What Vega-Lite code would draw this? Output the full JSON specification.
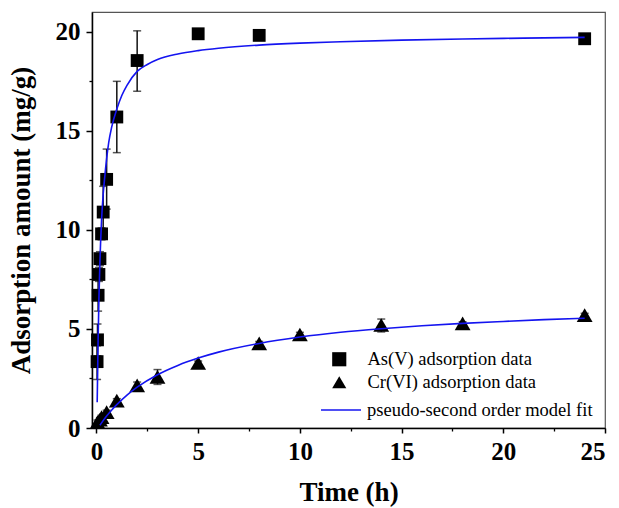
{
  "$schema": "https://vega.github.io/schema/vega-lite/v6.json",
  "width": 513,
  "height": 416,
  "autosize": "none",
  "padding": {"left": 92, "top": 12, "right": 14, "bottom": 80},
  "background": "white",
  "config": {
    "view": {"stroke": "#555555", "strokeWidth": 1.2},
    "font": "Liberation Serif",
    "legend": {"padding": 0, "labelFont": "Liberation Serif", "labelFontSize": 18.5, "labelColor": "black", "labelLimit": 400}
  },
  "datasets": {
    "points": [
      {"t": 0.03, "q": 3.35, "lo": 2.45, "hi": 4.15, "series": "As(V) adsorption data"},
      {"t": 0.05, "q": 4.45, "lo": 3.65, "hi": 5.25, "series": "As(V) adsorption data"},
      {"t": 0.08, "q": 6.7, "lo": 5.9, "hi": 7.5, "series": "As(V) adsorption data"},
      {"t": 0.12, "q": 7.75, "lo": 7.4, "hi": 8.1, "series": "As(V) adsorption data"},
      {"t": 0.17, "q": 8.55, "lo": 8.2, "hi": 8.9, "series": "As(V) adsorption data"},
      {"t": 0.25, "q": 9.8, "lo": 9.5, "hi": 10.1, "series": "As(V) adsorption data"},
      {"t": 0.33, "q": 10.9, "lo": 9.6, "hi": 12.2, "series": "As(V) adsorption data"},
      {"t": 0.5, "q": 12.55, "lo": 11.05, "hi": 14.08, "series": "As(V) adsorption data"},
      {"t": 1, "q": 15.7, "lo": 13.9, "hi": 17.5, "series": "As(V) adsorption data"},
      {"t": 2, "q": 18.55, "lo": 17.0, "hi": 20.05, "series": "As(V) adsorption data"},
      {"t": 5, "q": 19.9, "lo": 19.8, "hi": 20.0, "series": "As(V) adsorption data"},
      {"t": 8, "q": 19.82, "lo": 19.74, "hi": 19.9, "series": "As(V) adsorption data"},
      {"t": 24, "q": 19.65, "lo": 19.58, "hi": 19.72, "series": "As(V) adsorption data"},
      {"t": 0.05, "q": 0.3, "lo": 0.2, "hi": 0.4, "series": "Cr(VI) adsorption data"},
      {"t": 0.17, "q": 0.42, "lo": 0.32, "hi": 0.52, "series": "Cr(VI) adsorption data"},
      {"t": 0.25, "q": 0.55, "lo": 0.45, "hi": 0.65, "series": "Cr(VI) adsorption data"},
      {"t": 0.5, "q": 0.8, "lo": 0.7, "hi": 0.9, "series": "Cr(VI) adsorption data"},
      {"t": 1, "q": 1.38, "lo": 1.28, "hi": 1.48, "series": "Cr(VI) adsorption data"},
      {"t": 2, "q": 2.15, "lo": 1.98, "hi": 2.32, "series": "Cr(VI) adsorption data"},
      {"t": 3, "q": 2.58, "lo": 2.2, "hi": 2.95, "series": "Cr(VI) adsorption data"},
      {"t": 5, "q": 3.28, "lo": 3.18, "hi": 3.38, "series": "Cr(VI) adsorption data"},
      {"t": 8, "q": 4.27, "lo": 4.17, "hi": 4.37, "series": "Cr(VI) adsorption data"},
      {"t": 10, "q": 4.72, "lo": 4.61, "hi": 4.83, "series": "Cr(VI) adsorption data"},
      {"t": 14, "q": 5.2, "lo": 4.85, "hi": 5.5, "series": "Cr(VI) adsorption data"},
      {"t": 18, "q": 5.28, "lo": 5.2, "hi": 5.36, "series": "Cr(VI) adsorption data"},
      {"t": 24, "q": 5.7, "lo": 5.61, "hi": 5.79, "series": "Cr(VI) adsorption data"}
    ],
    "fits": [
      {"t": 0.035, "q": 1.3, "metal": "As", "label": "pseudo-second order model fit"},
      {"t": 0.06, "q": 3.0, "metal": "As", "label": "pseudo-second order model fit"},
      {"t": 0.08, "q": 4.4, "metal": "As", "label": "pseudo-second order model fit"},
      {"t": 0.12, "q": 6.5, "metal": "As", "label": "pseudo-second order model fit"},
      {"t": 0.17, "q": 8.4, "metal": "As", "label": "pseudo-second order model fit"},
      {"t": 0.2, "q": 9.3, "metal": "As", "label": "pseudo-second order model fit"},
      {"t": 0.25, "q": 10.5, "metal": "As", "label": "pseudo-second order model fit"},
      {"t": 0.33, "q": 11.8, "metal": "As", "label": "pseudo-second order model fit"},
      {"t": 0.4, "q": 12.6, "metal": "As", "label": "pseudo-second order model fit"},
      {"t": 0.5, "q": 13.6, "metal": "As", "label": "pseudo-second order model fit"},
      {"t": 0.6, "q": 14.4, "metal": "As", "label": "pseudo-second order model fit"},
      {"t": 0.75, "q": 15.2, "metal": "As", "label": "pseudo-second order model fit"},
      {"t": 1, "q": 16.1, "metal": "As", "label": "pseudo-second order model fit"},
      {"t": 1.25, "q": 16.8, "metal": "As", "label": "pseudo-second order model fit"},
      {"t": 1.5, "q": 17.3, "metal": "As", "label": "pseudo-second order model fit"},
      {"t": 2, "q": 18.0, "metal": "As", "label": "pseudo-second order model fit"},
      {"t": 2.5, "q": 18.35, "metal": "As", "label": "pseudo-second order model fit"},
      {"t": 3, "q": 18.6, "metal": "As", "label": "pseudo-second order model fit"},
      {"t": 4, "q": 18.88, "metal": "As", "label": "pseudo-second order model fit"},
      {"t": 5, "q": 19.05, "metal": "As", "label": "pseudo-second order model fit"},
      {"t": 6, "q": 19.17, "metal": "As", "label": "pseudo-second order model fit"},
      {"t": 8, "q": 19.33, "metal": "As", "label": "pseudo-second order model fit"},
      {"t": 10, "q": 19.43, "metal": "As", "label": "pseudo-second order model fit"},
      {"t": 12, "q": 19.5, "metal": "As", "label": "pseudo-second order model fit"},
      {"t": 15, "q": 19.58, "metal": "As", "label": "pseudo-second order model fit"},
      {"t": 18, "q": 19.64, "metal": "As", "label": "pseudo-second order model fit"},
      {"t": 21, "q": 19.68, "metal": "As", "label": "pseudo-second order model fit"},
      {"t": 24, "q": 19.72, "metal": "As", "label": "pseudo-second order model fit"},
      {"t": 0.17, "q": 0.14, "metal": "Cr", "label": "pseudo-second order model fit"},
      {"t": 0.25, "q": 0.26, "metal": "Cr", "label": "pseudo-second order model fit"},
      {"t": 0.5, "q": 0.6, "metal": "Cr", "label": "pseudo-second order model fit"},
      {"t": 0.75, "q": 0.91, "metal": "Cr", "label": "pseudo-second order model fit"},
      {"t": 1, "q": 1.18, "metal": "Cr", "label": "pseudo-second order model fit"},
      {"t": 1.5, "q": 1.66, "metal": "Cr", "label": "pseudo-second order model fit"},
      {"t": 2, "q": 2.06, "metal": "Cr", "label": "pseudo-second order model fit"},
      {"t": 3, "q": 2.69, "metal": "Cr", "label": "pseudo-second order model fit"},
      {"t": 4, "q": 3.16, "metal": "Cr", "label": "pseudo-second order model fit"},
      {"t": 5, "q": 3.53, "metal": "Cr", "label": "pseudo-second order model fit"},
      {"t": 6, "q": 3.83, "metal": "Cr", "label": "pseudo-second order model fit"},
      {"t": 8, "q": 4.27, "metal": "Cr", "label": "pseudo-second order model fit"},
      {"t": 10, "q": 4.59, "metal": "Cr", "label": "pseudo-second order model fit"},
      {"t": 12, "q": 4.83, "metal": "Cr", "label": "pseudo-second order model fit"},
      {"t": 14, "q": 5.01, "metal": "Cr", "label": "pseudo-second order model fit"},
      {"t": 16, "q": 5.16, "metal": "Cr", "label": "pseudo-second order model fit"},
      {"t": 18, "q": 5.28, "metal": "Cr", "label": "pseudo-second order model fit"},
      {"t": 20, "q": 5.38, "metal": "Cr", "label": "pseudo-second order model fit"},
      {"t": 22, "q": 5.47, "metal": "Cr", "label": "pseudo-second order model fit"},
      {"t": 24, "q": 5.54, "metal": "Cr", "label": "pseudo-second order model fit"}
    ]
  },
  "layer": [
    {
      "data": {"name": "points"},
      "mark": {"type": "errorbar", "thickness": 1.5, "color": "#111111", "ticks": {"size": 8, "color": "#111111"}, "rule": {"color": "#111111"}},
      "encoding": {
        "x": {"field": "t", "type": "quantitative", "scale": {"domain": [-0.22, 25], "nice": false, "zero": false}, "axis": null},
        "y": {"field": "lo", "type": "quantitative", "scale": {"domain": [0, 21], "nice": false}, "axis": null},
        "y2": {"field": "hi"}
      }
    },
    {
      "data": {"name": "points"},
      "mark": {"type": "point", "filled": true, "opacity": 1, "color": "black", "strokeWidth": 0},
      "encoding": {
        "x": {
          "field": "t", "type": "quantitative",
          "axis": {
            "values": [0, 5, 10, 15, 20, 25], "grid": false, "domainColor": "black", "domainWidth": 1.5,
            "tickColor": "black", "tickWidth": 1.5, "tickSize": 5, "labelPadding": 6,
            "labelFont": "Liberation Serif", "labelFontWeight": "bold", "labelFontSize": 25, "labelColor": "black",
            "title": "Time (h)", "titleFont": "Liberation Serif", "titleFontWeight": "bold", "titleFontSize": 27,
            "titleColor": "black", "titlePadding": 15, "orient": "bottom"
          }
        },
        "y": {
          "field": "q", "type": "quantitative",
          "axis": {
            "values": [0, 5, 10, 15, 20], "grid": false, "domainColor": "black", "domainWidth": 1.5,
            "tickColor": "black", "tickWidth": 1.5, "tickSize": 6, "labelPadding": 6,
            "labelFont": "Liberation Serif", "labelFontWeight": "bold", "labelFontSize": 25, "labelColor": "black",
            "title": "Adsorption amount (mg/g)", "titleFont": "Liberation Serif", "titleFontWeight": "bold",
            "titleFontSize": 27, "titleColor": "black", "titlePadding": 20, "orient": "left"
          }
        },
        "shape": {
          "field": "series", "type": "nominal",
          "scale": {"domain": ["As(V) adsorption data", "Cr(VI) adsorption data"], "range": ["square", "triangle-up"]},
          "legend": {
            "orient": "none", "legendX": 238, "legendY": 338, "title": null,
            "labelFont": "Liberation Serif", "labelFontSize": 18.5, "labelColor": "black", "labelOffset": 19, "labelLimit": 400,
            "symbolFillColor": "black", "symbolStrokeWidth": 0, "symbolSize": 200, "rowPadding": 4,
            "encode": {"symbols": {
              "enter": {"size": {"signal": "datum.label === 'Cr(VI) adsorption data' ? 300 : 160"}},
              "update": {"size": {"signal": "datum.label === 'Cr(VI) adsorption data' ? 300 : 160"}}
            }}
          }
        },
        "size": {
          "condition": {"test": "datum.series === 'Cr(VI) adsorption data'", "value": 250},
          "value": 165
        }
      }
    },
    {
      "data": {"name": "fits"},
      "mark": {"type": "line", "strokeWidth": 1.6, "interpolate": "monotone"},
      "encoding": {
        "x": {
          "field": "t", "type": "quantitative",
          "axis": {"values": [2.5, 7.5, 12.5, 17.5, 22.5], "labels": false, "domain": false, "grid": false,
                   "tickSize": 3, "tickWidth": 1.3, "tickColor": "black", "title": null, "orient": "bottom"}
        },
        "y": {
          "field": "q", "type": "quantitative",
          "axis": {"values": [2.5, 7.5, 12.5, 17.5], "labels": false, "domain": false, "grid": false,
                   "tickSize": 3, "tickWidth": 1.3, "tickColor": "black", "title": null, "orient": "left"}
        },
        "detail": {"field": "metal"},
        "color": {
          "field": "label", "type": "nominal",
          "scale": {"domain": ["pseudo-second order model fit"], "range": ["#1414f0"]},
          "legend": {
            "orient": "none", "legendX": 228, "legendY": 377, "title": null, "symbolType": "stroke",
            "symbolSize": 1600, "symbolStrokeWidth": 1.6,
            "labelFont": "Liberation Serif", "labelFontSize": 18.5, "labelColor": "black", "labelOffset": 5, "labelLimit": 400
          }
        }
      }
    }
  ],
  "resolve": {"axis": {"x": "independent", "y": "independent"}}
}
